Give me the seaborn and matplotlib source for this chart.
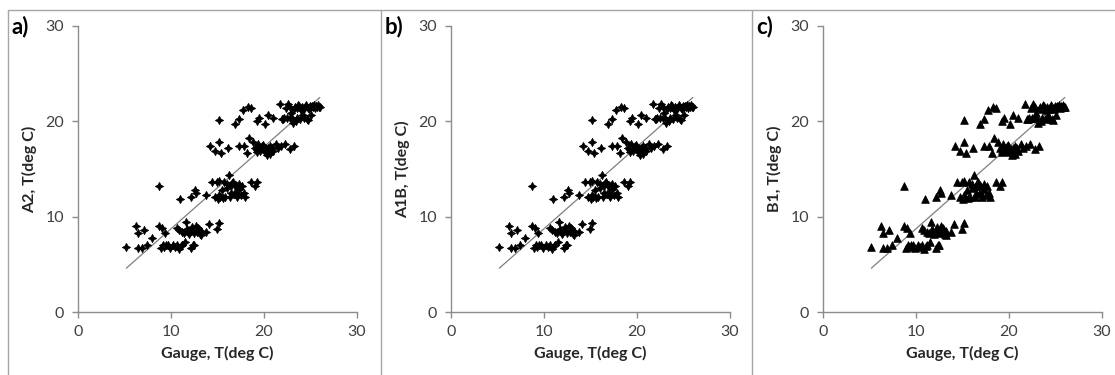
import numpy as np
import pandas as pd
import seaborn as sns
import matplotlib
matplotlib.use("Agg")
import matplotlib.pyplot as plt
from matplotlib.lines import Line2D

# ---------------- data ----------------
gauge_T = [
    5.2, 6.2, 6.5, 7.1, 6.4, 6.9, 7.4, 8.0, 8.7, 8.7, 9.0, 9.4, 8.9, 9.1, 9.5, 9.9,
    10.2, 10.6, 10.9, 11.2, 11.5, 12.2, 12.5, 10.6, 10.9, 11.2, 11.6, 11.8, 12.2, 12.5,
    12.7, 13.0, 13.2, 13.8, 14.1, 14.9, 15.2, 11.0, 12.1, 12.6, 12.7,
    11.4, 11.9, 12.3, 12.8, 12.9, 13.2, 12.0, 11.7, 13.1,
    9.2, 9.7, 10.4, 11.1, 12.4,
    13.8, 14.4, 14.9, 14.7, 15.0, 15.3, 15.2, 15.7, 16.0, 16.2, 16.3, 16.6, 16.9, 17.0,
    17.1, 17.6, 17.9, 18.0, 17.3, 18.6, 19.0, 19.3, 15.5, 16.5, 16.7,
    15.2, 15.6, 16.0, 16.4, 16.8, 17.3, 17.5, 15.8, 16.9,
    14.2, 14.7, 15.2, 15.4, 16.1, 17.3, 17.9, 18.2, 18.4, 18.8, 19.0, 19.4, 19.7, 20.1,
    20.3, 20.4, 20.8, 21.3, 21.5, 22.3, 22.8, 23.2, 19.2, 19.9, 20.6,
    19.3, 19.6, 20.0, 20.3, 20.6, 20.9, 19.8, 20.2, 21.0, 21.8,
    15.2, 16.9, 17.3, 17.7, 18.3, 18.6, 19.3, 19.5, 20.1, 20.4, 21.0, 21.7, 21.9, 22.2,
    22.4, 22.8, 23.1, 23.3, 23.6, 23.8, 24.2, 24.4, 24.6, 24.9, 25.3, 25.6, 25.9, 23.7,
    24.0, 24.7, 25.4, 25.1, 22.9, 22.6,
    22.0, 22.5, 23.0, 23.4, 23.9, 24.3, 24.7, 23.5, 24.1, 24.5, 24.8, 25.0, 25.2, 25.5,
    25.7, 26.0, 23.2, 24.3, 22.8, 25.8,
]
a2_T = [
    6.8, 9.0, 8.3, 8.6, 6.7, 6.7, 7.0, 7.8, 13.2, 9.0, 8.8, 8.3, 6.7, 7.0, 7.0, 6.7,
    7.0, 7.0, 6.6, 7.0, 7.3, 6.7, 7.0, 8.8, 8.6, 8.4, 9.4, 8.4, 8.6, 8.3,
    9.0, 8.6, 8.1, 8.4, 9.2, 8.7, 9.3, 11.9, 12.1, 12.8, 12.5,
    8.3, 8.2, 8.9, 8.4, 8.8, 8.5, 8.4, 8.7, 8.2,
    6.8, 7.0, 6.8, 6.9, 7.0,
    12.3, 13.6, 13.6, 12.1, 11.9, 12.1, 13.7, 13.6, 13.0, 14.4, 12.1, 13.5, 13.2, 12.5,
    12.1, 13.2, 12.5, 12.1, 13.4, 13.6, 13.2, 13.6, 12.8, 12.5, 13.6,
    12.3, 12.0, 13.4, 13.2, 12.4, 12.9, 12.3, 12.1, 13.3,
    17.4, 16.9, 17.8, 16.7, 17.2, 17.4, 17.4, 16.7, 18.2, 17.8, 17.2, 17.6, 17.2, 16.8,
    16.5, 17.2, 17.0, 17.6, 17.2, 17.6, 17.1, 17.4, 16.8, 17.5, 17.4,
    17.0, 16.9, 17.3, 16.9, 16.6, 17.2, 17.4, 17.1, 16.9, 17.4,
    20.1, 19.7, 20.2, 21.2, 21.5, 21.4, 20.0, 20.3, 19.7, 20.7, 20.3, 21.8, 20.2, 20.3,
    21.4, 20.3, 19.8, 21.5, 20.3, 21.6, 20.7, 21.5, 20.2, 21.6, 21.5, 21.6, 21.5, 21.7,
    21.2, 21.4, 21.7, 20.7, 20.9, 21.8,
    20.2, 20.4, 20.3, 20.0, 20.2, 20.4, 20.1, 21.4, 21.5, 21.7, 21.3, 21.5, 21.6, 21.4,
    21.5, 21.5, 21.3, 21.3, 21.5, 21.7,
]
# the A1B and B1 panels read the same as A2 within the picture's resolution
a1b_T = list(a2_T)
b1_T = list(a2_T)

trend_x = [5.2, 26.0]
trend_y = [4.6, 22.5]

panel_letters = ["a)", "b)", "c)"]
y_labels = ["A2, T(deg C)", "A1B, T(deg C)", "B1, T(deg C)"]
x_label = "Gauge, T(deg C)"
series = [a2_T, a1b_T, b1_T]
ticks = [0, 10, 20, 30]

# ---------------- style ----------------
sns.set_theme(style="white")
plt.rcParams["font.family"] = ["Lato", "DejaVu Sans"]

W, H = 1115, 375
fig = plt.figure(figsize=(W / 100, H / 100), dpi=100)

star = (4, 1, 0)
markers = [star, star, "^"]
sizes = [34, 34, 30]

ax_left_px = [78, 451, 823]
ax_w_px = 279
ax_top_px, ax_bot_px = 26, 312
border_x_px = [8, 381, 752]
spine_col = "#8c8c8c"
tick_col = "#404040"

for i in range(3):
    ax = fig.add_axes([ax_left_px[i] / W, 1 - ax_bot_px / H,
                       ax_w_px / W, (ax_bot_px - ax_top_px) / H])
    df = pd.DataFrame({"x": gauge_T, "y": series[i]})
    sns.scatterplot(data=df, x="x", y="y", ax=ax, marker=markers[i], s=sizes[i],
                    color="black", edgecolor="black", linewidth=0.6, zorder=3)
    sns.lineplot(x=trend_x, y=trend_y, ax=ax, color="#7f7f7f", linewidth=0.9, zorder=2)
    ax.set_xlim(0, 30)
    ax.set_ylim(0, 30)
    ax.set_xticks(ticks)
    ax.set_yticks(ticks)
    for s in ["top", "right"]:
        ax.spines[s].set_visible(False)
    for s in ["left", "bottom"]:
        ax.spines[s].set_color(spine_col)
        ax.spines[s].set_linewidth(1.0)
    ax.tick_params(axis="both", direction="out", length=4, width=1.0,
                   color=spine_col, labelcolor=tick_col, labelsize=11.5,
                   bottom=True, left=True)
    ax.tick_params(axis="y", pad=6)
    ax.tick_params(axis="x", pad=5)
    ax.set_xlabel(x_label, fontsize=11.5, fontweight="bold", color="#262626", labelpad=5)
    ax.set_ylabel(y_labels[i], fontsize=11.5, fontweight="bold", color="#262626", labelpad=6)
    ax.set_facecolor("none")
    fig.text((border_x_px[i] + 4) / W, 1 - 27 / H, panel_letters[i],
             fontsize=16, fontweight="bold", color="black", va="center", ha="left")

# panel borders
bc = "#a6a6a6"
fig.add_artist(Line2D([8 / W, 1], [1 - 10 / H, 1 - 10 / H], color=bc, lw=1.0,
                      transform=fig.transFigure))
for bx in border_x_px:
    fig.add_artist(Line2D([bx / W, bx / W], [0, 1 - 10 / H], color=bc, lw=1.0,
                          transform=fig.transFigure))

fig.savefig("out.png", dpi=100, facecolor="white")
